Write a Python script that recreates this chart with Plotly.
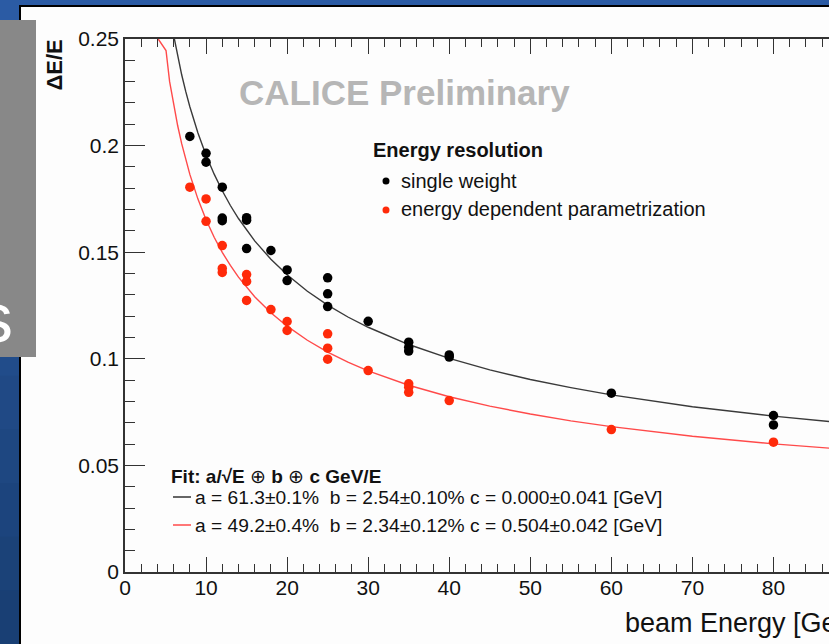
import plotly.graph_objects as go

# ---- data ----
energy_single = [8, 10, 10, 12, 12, 12, 15, 15, 15, 18, 20, 20, 25, 25, 25, 30, 35, 35, 35, 40, 40, 60, 80, 80]
res_single = [0.2043, 0.1964, 0.1922, 0.1805, 0.1660, 0.1648, 0.1662, 0.1650, 0.1517, 0.1508,
              0.1417, 0.1367, 0.1380, 0.1305, 0.1245, 0.1176, 0.1078, 0.1054, 0.1036, 0.1018,
              0.1008, 0.0839, 0.0734, 0.0690]

energy_param = [8, 10, 10, 12, 12, 12, 15, 15, 15, 18, 20, 20, 25, 25, 25, 30, 35, 35, 35, 40, 60, 80]
res_param = [0.1805, 0.1750, 0.1645, 0.1531, 0.1424, 0.1405, 0.1395, 0.1363, 0.1274, 0.1231,
             0.1175, 0.1133, 0.1117, 0.1050, 0.0998, 0.0945, 0.0883, 0.0867, 0.0843, 0.0804,
             0.0668, 0.0609]

fit_e_single = [5.9, 6.2, 6.5, 7, 7.5, 8, 9, 10, 11, 12, 13, 14, 16, 18, 20, 22.5, 25, 27.5, 30,
                35, 40, 45, 50, 55, 60, 70, 80, 90]
fit_single = [0.2536, 0.2475, 0.2418, 0.2331, 0.2253, 0.2182, 0.2059, 0.1955, 0.1866, 0.1788,
              0.1719, 0.1658, 0.1553, 0.1467, 0.1394, 0.1317, 0.1252, 0.1196, 0.1148, 0.1067,
              0.1002, 0.0948, 0.0903, 0.0865, 0.0831, 0.0775, 0.0731, 0.0694]

fit_e_param = [4.1, 5.06, 5.5, 6, 6.5, 7, 7.5, 8, 9, 10, 11, 12, 13, 14, 16, 18, 20, 22.5, 25, 27.5,
               30, 35, 40, 45, 50, 55, 60, 70, 80, 90]
fit_param = [0.2500, 0.2446, 0.2301, 0.2190, 0.2093, 0.2008, 0.1932, 0.1865, 0.1749, 0.1652,
             0.1570, 0.1499, 0.1438, 0.1383, 0.1291, 0.1216, 0.1153, 0.1087, 0.1031, 0.0984,
             0.0943, 0.0876, 0.0822, 0.0778, 0.0741, 0.0709, 0.0682, 0.0637, 0.0601, 0.0572]

x_ticks = [0, 10, 20, 30, 40, 50, 60, 70, 80]
y_ticks = [0, 0.05, 0.1, 0.15, 0.2, 0.25]

# ---- geometry helpers (pixel -> paper) ----
W, H = 829, 644
ML, MR, MT, MB = 125, 0, 39, 72
PW, PH = W - ML - MR, H - MT - MB


def X(px):
    return (px - ML) / PW


def Y(py):
    return (H - MB - py) / PH


FONT = "Liberation Sans"
BLACK = "#000000"
RED = "#ff2a0a"

fig = go.Figure()
fig.add_trace(go.Scatter(x=fit_e_single, y=fit_single, mode="lines",
                         line=dict(color="#3a3a3a", width=1.4), hoverinfo="skip", showlegend=False))
fig.add_trace(go.Scatter(x=fit_e_param, y=fit_param, mode="lines",
                         line=dict(color="#ff4a4a", width=1.4), hoverinfo="skip", showlegend=False))
fig.add_trace(go.Scatter(x=energy_single, y=res_single, mode="markers", name="single weight",
                         marker=dict(color=BLACK, size=9.5), showlegend=False))
fig.add_trace(go.Scatter(x=energy_param, y=res_param, mode="markers",
                         name="energy dependent parametrization",
                         marker=dict(color=RED, size=9.5), showlegend=False))

axis_common = dict(showgrid=False, zeroline=False, showline=True, linecolor="#333333", linewidth=1.5,
                   ticks="inside", tickcolor="#333333", tickwidth=1.3,
                   tickfont=dict(family=FONT, size=21, color="#111111"))

fig.update_xaxes(range=[0, 86.85], tickvals=x_ticks, ticklen=15, mirror="ticks", ticklabelstandoff=-4,
                 minor=dict(dtick=2, tick0=0, ticklen=8, ticks="inside", tickcolor="#333333", tickwidth=1.1),
                 **axis_common)
fig.update_yaxes(range=[0, 0.25], tickvals=y_ticks, ticklen=20, mirror=False,
                 minor=dict(dtick=0.01, tick0=0, ticklen=10, ticks="inside", tickcolor="#333333", tickwidth=1.1),
                 **axis_common)

# ---- slide decoration ----
shapes = []
top_rgb = (43, 91, 164)
bot_rgb = (25, 63, 116)
n = 12
for i in range(n):
    t = i / (n - 1)
    c = tuple(int(round(top_rgb[k] + (bot_rgb[k] - top_rgb[k]) * t)) for k in range(3))
    shapes.append(dict(type="rect", xref="paper", yref="paper", layer="below",
                       x0=X(0), x1=X(22), y0=Y(i * H / n), y1=Y((i + 1) * H / n + 1),
                       fillcolor="rgb(%d,%d,%d)" % c, line=dict(width=0)))
shapes.append(dict(type="rect", xref="paper", yref="paper", layer="below",
                   x0=X(20), x1=X(W + 20), y0=Y(6), y1=Y(H + 20),
                   fillcolor="#fdfdfd", line=dict(color="#000000", width=2)))
shapes.append(dict(type="rect", xref="paper", yref="paper", layer="below",
                   x0=X(-2), x1=X(36), y0=Y(20), y1=Y(357),
                   fillcolor="#888888", line=dict(width=0)))
# legend markers
for cy, col in [(181, BLACK), (210, RED)]:
    shapes.append(dict(type="circle", xref="paper", yref="paper",
                       x0=X(382.5), x1=X(389.5), y0=Y(cy - 3.5), y1=Y(cy + 3.5),
                       fillcolor=col, line=dict(width=0)))
# fit line samples
for cy, col in [(497, "#333333"), (525, "#ff4a4a")]:
    shapes.append(dict(type="line", xref="paper", yref="paper",
                       x0=X(173), x1=X(191), y0=Y(cy), y1=Y(cy),
                       line=dict(color=col, width=1.5)))


def ann(text, px, py, size, color="#111111", xanchor="left", yanchor="middle", angle=0):
    return dict(text=text, x=X(px), y=Y(py), xref="paper", yref="paper", showarrow=False,
                xanchor=xanchor, yanchor=yanchor, textangle=angle,
                font=dict(family=FONT, size=size, color=color))


annotations = [
    ann("s", 15, 318, 70, color="#ffffff", xanchor="right"),
    ann("<b>ΔE/E</b>", 54, 38, 22, xanchor="center", yanchor="top", angle=-90),
    ann("beam Energy [GeV]", 623, 623, 27),
    ann("<b>CALICE Preliminary</b>", 237, 93, 35, color="#b6b6b6"),
    ann("<b>Energy resolution</b>", 371, 150, 20),
    ann("single weight", 399, 181, 20),
    ann("energy dependent parametrization", 399, 209, 20),
    ann("<b>Fit: a/√E</b> ⊕ <b>b</b> ⊕ <b>c GeV/E</b>", 169, 476, 19),
    ann("a = 61.3±0.1%\u00a0\u00a0b = 2.54±0.10% c = 0.000±0.041 [GeV]", 193, 497, 19.2),
    ann("a = 49.2±0.4%\u00a0\u00a0b = 2.34±0.12% c = 0.504±0.042 [GeV]", 193, 525, 19.2),
]

fig.update_layout(width=W, height=H, margin=dict(l=ML, r=MR, t=MT, b=MB, pad=0),
                  paper_bgcolor="rgb(43,91,164)", plot_bgcolor="rgba(0,0,0,0)",
                  shapes=shapes, annotations=annotations, showlegend=False,
                  font=dict(family=FONT))

fig.write_html("out.html", config={"displayModeBar": False},
               post_script="document.body.style.margin='0';document.body.style.overflow='hidden';")
